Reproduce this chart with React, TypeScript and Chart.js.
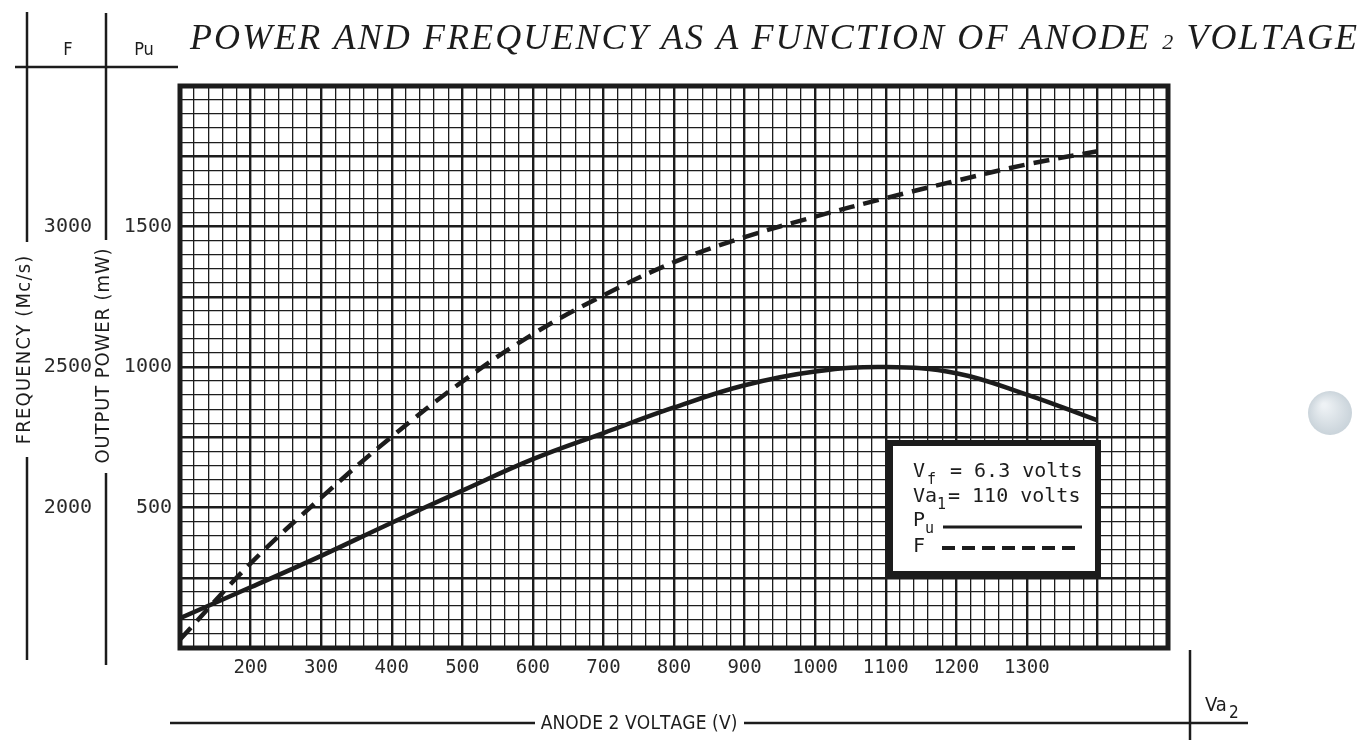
import { useEffect, useRef } from 'react';
import { Chart, registerables } from 'chart.js';

Chart.register(...registerables);

// ---- data ----
const anodeVoltages = [100, 200, 300, 400, 500, 600, 700, 800, 900, 1000, 1100, 1200, 1300, 1400];
const outputPowerMW = [106, 216, 328, 446, 560, 672, 765, 856, 935, 984, 1000, 978, 902, 810];
const frequencyMcs = [1530, 1801, 2035, 2252, 2448, 2617, 2755, 2873, 2962, 3035, 3101, 3163, 3221, 3268];

const xTickLabels = [200, 300, 400, 500, 600, 700, 800, 900, 1000, 1100, 1200, 1300];
const powerTickLabels = [500, 1000, 1500];
const freqTickLabels = [2000, 2500, 3000];

const titleMain = 'POWER AND FREQUENCY AS A FUNCTION OF ANODE ';
const titleSub = '2';
const titleEnd = ' VOLTAGE';
const xTitle = 'ANODE 2 VOLTAGE (V)';
const powerTitle = 'OUTPUT POWER (mW)';
const freqTitle = 'FREQUENCY (Mc/s)';

const INK = '#1c1c1c';
const MONO = '"DejaVu Sans Mono", monospace';
const COND = '"DejaVu Sans Condensed", "DejaVu Sans", sans-serif';

function line(ctx: CanvasRenderingContext2D, x1: number, y1: number, x2: number, y2: number, w: number) {
  ctx.beginPath();
  ctx.lineWidth = w;
  ctx.moveTo(x1, y1);
  ctx.lineTo(x2, y2);
  ctx.stroke();
}

function spacedCentered(ctx: CanvasRenderingContext2D, text: string, cx: number, y: number, spacing: number) {
  const chars = Array.from(text);
  const widths = chars.map((c) => ctx.measureText(c).width);
  const total = widths.reduce((s, w) => s + w, 0) + spacing * (chars.length - 1);
  let x = cx - total / 2;
  const prevAlign = ctx.textAlign;
  ctx.textAlign = 'left';
  chars.forEach((c, i) => {
    ctx.fillText(c, x, y);
    x += widths[i] + spacing;
  });
  ctx.textAlign = prevAlign;
}

const decorPlugin = {
  id: 'decor',
  beforeDraw(chart: any) {
    const ctx = chart.ctx as CanvasRenderingContext2D;
    ctx.save();
    ctx.fillStyle = '#ffffff';
    ctx.fillRect(0, 0, chart.width, chart.height);
    ctx.restore();
  },
  afterDatasetsDraw(chart: any) {
    const ctx = chart.ctx as CanvasRenderingContext2D;
    const a = chart.chartArea;
    ctx.save();
    ctx.strokeStyle = INK;
    ctx.lineWidth = 5;
    ctx.strokeRect(a.left, a.top, a.right - a.left, a.bottom - a.top);
    ctx.restore();
  },
  afterDraw(chart: any) {
    const ctx = chart.ctx as CanvasRenderingContext2D;
    ctx.save();
    ctx.strokeStyle = INK;
    ctx.fillStyle = INK;

    // ---- title, spread across the top ----
    const targetL = 190;
    const targetR = 1357;
    const pieces: { t: string; f: string }[] = [];
    for (const ch of titleMain) pieces.push({ t: ch, f: 'italic 36px "Liberation Serif"' });
    for (const ch of titleSub) pieces.push({ t: ch, f: 'italic 22px "Liberation Serif"' });
    for (const ch of titleEnd) pieces.push({ t: ch, f: 'italic 36px "Liberation Serif"' });
    let total = 0;
    const widths = pieces.map((p) => {
      ctx.font = p.f;
      const w = ctx.measureText(p.t).width;
      total += w;
      return w;
    });
    const gap = (targetR - targetL - total) / (pieces.length - 1);
    let tx = targetL;
    ctx.textBaseline = 'alphabetic';
    ctx.textAlign = 'left';
    pieces.forEach((p, i) => {
      ctx.font = p.f;
      ctx.fillText(p.t, tx, 49);
      tx += widths[i] + gap;
    });

    // ---- left header lines ----
    line(ctx, 27, 12, 27, 242, 2.5);
    line(ctx, 27, 457, 27, 660, 2.5);
    line(ctx, 106, 13, 106, 240, 2.5);
    line(ctx, 106, 473, 106, 665, 2.5);
    line(ctx, 15, 67, 178, 67, 2.5);
    ctx.font = '18px ' + COND;
    ctx.textAlign = 'center';
    ctx.fillText('F', 68, 55);
    ctx.fillText('Pu', 144, 55);

    // rotated axis titles
    ctx.font = '20px ' + COND;
    ctx.textBaseline = 'middle';
    ctx.save();
    ctx.translate(25, 350);
    ctx.rotate(-Math.PI / 2);
    spacedCentered(ctx, freqTitle, 0, 0, 1.2);
    ctx.restore();
    ctx.save();
    ctx.translate(104, 356);
    ctx.rotate(-Math.PI / 2);
    spacedCentered(ctx, powerTitle, 0, 0, 0.9);
    ctx.restore();

    // ---- bottom axis title with rule ----
    ctx.textBaseline = 'alphabetic';
    ctx.font = '19px ' + COND;
    spacedCentered(ctx, xTitle, 639, 729, 0.1);
    line(ctx, 170, 723, 535, 723, 2.5);
    line(ctx, 744, 723, 1248, 723, 2.5);
    line(ctx, 1190, 650, 1190, 740, 2.5);
    ctx.textAlign = 'left';
    ctx.font = '20px ' + COND;
    ctx.fillText('Va', 1205, 711);
    ctx.font = '17px ' + COND;
    ctx.fillText('2', 1229, 718);

    // ---- legend box ----
    ctx.fillStyle = '#ffffff';
    ctx.fillRect(890, 443, 208, 131);
    ctx.lineWidth = 6;
    ctx.strokeRect(890, 443, 208, 131);
    ctx.fillStyle = INK;
    ctx.font = '20px ' + MONO;
    ctx.fillText('V', 913, 477);
    ctx.fillText('= 6.3 volts', 950, 477);
    ctx.fillText('Va', 913, 502);
    ctx.fillText('= 110 volts', 948, 502);
    ctx.fillText('P', 913, 526);
    ctx.fillText('F', 913, 552);
    ctx.font = '15px ' + MONO;
    ctx.fillText('f', 927, 484);
    ctx.fillText('1', 937, 509);
    ctx.fillText('u', 925, 533);
    line(ctx, 943, 527, 1082, 527, 3);
    ctx.setLineDash([13, 7]);
    line(ctx, 942, 548, 1082, 548, 4);
    ctx.setLineDash([]);

    // ---- grey dot at the right margin ----
    const g = ctx.createRadialGradient(1324, 405, 2, 1330, 413, 23);
    g.addColorStop(0, '#eef2f5');
    g.addColorStop(1, '#c8d2d9');
    ctx.fillStyle = g;
    ctx.beginPath();
    ctx.arc(1330, 413, 22, 0, Math.PI * 2);
    ctx.fill();

    ctx.restore();
  },
};

export default function App() {
  const ref = useRef<HTMLCanvasElement | null>(null);

  useEffect(() => {
    if (!ref.current) return;
    const chart = new Chart(ref.current, {
      type: 'line',
      data: {
        datasets: [
          {
            label: 'Pu',
            data: anodeVoltages.map((v, i) => ({ x: v, y: outputPowerMW[i] })),
            yAxisID: 'y',
            borderColor: INK,
            borderWidth: 4.5,
            pointRadius: 0,
            tension: 0.4,
            fill: false,
          },
          {
            label: 'F',
            data: anodeVoltages.map((v, i) => ({ x: v, y: frequencyMcs[i] })),
            yAxisID: 'yF',
            borderColor: INK,
            borderWidth: 4.5,
            borderDash: [16, 9],
            pointRadius: 0,
            tension: 0.4,
            fill: false,
          },
        ],
      },
      options: {
        responsive: false,
        animation: false,
        devicePixelRatio: 1,
        layout: { padding: { top: 86, right: 196, left: 0, bottom: 0 } },
        plugins: { legend: { display: false }, title: { display: false }, tooltip: { enabled: false } },
        scales: {
          x: {
            type: 'linear',
            min: 100,
            max: 1500,
            afterFit: (s: any) => { s.height = 92; },
            border: { display: false },
            grid: {
              color: INK,
              drawTicks: false,
              lineWidth: (c: any) => (c.tick && Math.round(c.tick.value) % 100 === 0 ? 2.4 : 1.3),
            },
            ticks: {
              stepSize: 20,
              autoSkip: false,
              maxRotation: 0,
              padding: 9,
              color: '#2a2a2a',
              font: { family: MONO, size: 19 },
              callback: (v: any) => (xTickLabels.includes(Math.round(Number(v))) ? String(Math.round(Number(v))) : ''),
            },
          },
          y: {
            type: 'linear',
            position: 'left',
            weight: 0,
            min: 0,
            max: 2000,
            afterFit: (s: any) => { s.width = 80; },
            border: { display: false },
            grid: {
              color: INK,
              drawTicks: false,
              lineWidth: (c: any) => (c.tick && Math.round(c.tick.value) % 250 === 0 ? 2.4 : 1.3),
            },
            ticks: {
              stepSize: 50,
              autoSkip: false,
              padding: 8,
              color: '#2a2a2a',
              font: { family: MONO, size: 20 },
              callback: (v: any) => (powerTickLabels.includes(Math.round(Number(v))) ? String(Math.round(Number(v))) : ''),
            },
          },
          yF: {
            type: 'linear',
            position: 'left',
            weight: 1,
            min: 1500,
            max: 3500,
            afterFit: (s: any) => { s.width = 100; },
            border: { display: false },
            grid: { display: false, drawTicks: false },
            ticks: {
              stepSize: 50,
              autoSkip: false,
              padding: 8,
              color: '#2a2a2a',
              font: { family: MONO, size: 20 },
              callback: (v: any) => (freqTickLabels.includes(Math.round(Number(v))) ? String(Math.round(Number(v))) : ''),
            },
          },
        },
      },
      plugins: [decorPlugin],
    } as any);
    return () => chart.destroy();
  }, []);

  return (
    <div style={{ position: 'absolute', left: 0, top: 0, width: 1364, height: 740, overflow: 'hidden', background: '#fff' }}>
      <canvas ref={ref} width={1364} height={740} style={{ width: 1364, height: 740, display: 'block' }} />
    </div>
  );
}
